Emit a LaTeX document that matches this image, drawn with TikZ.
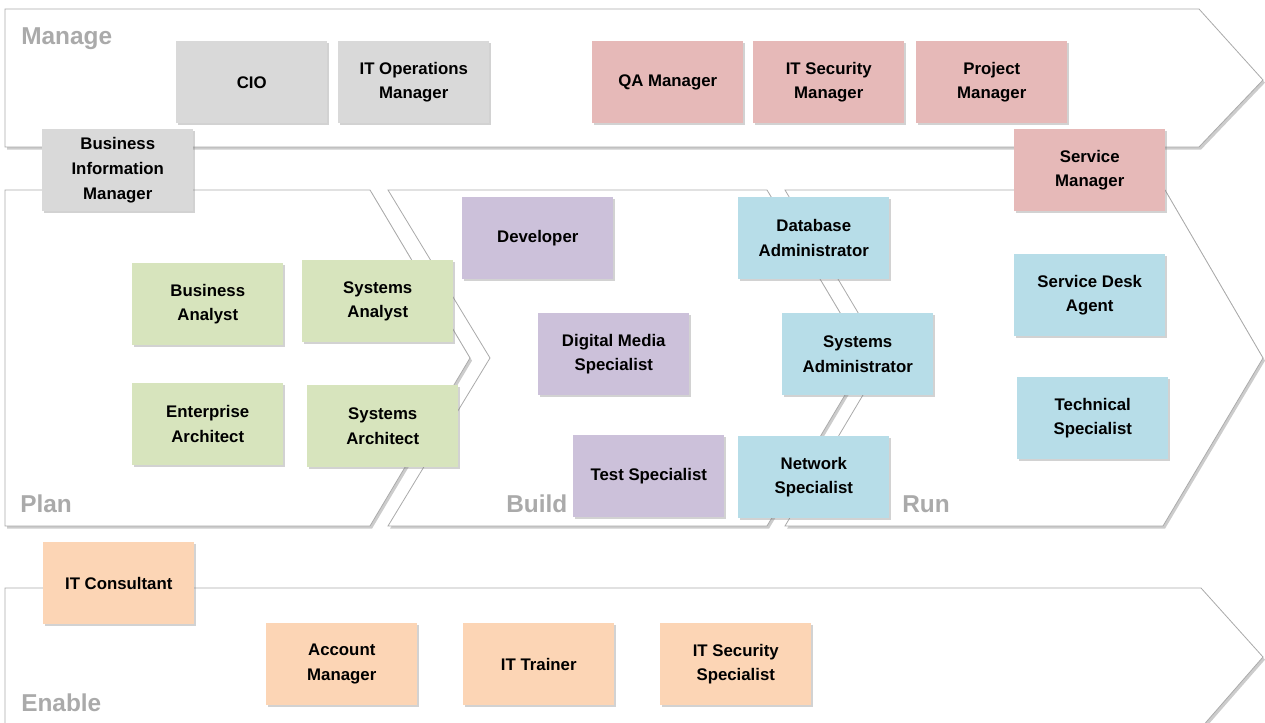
\documentclass[tikz,border=0pt]{standalone}
\usepackage{fontspec}
\setmainfont{Liberation Sans}
\usepackage{tikz}
\usetikzlibrary{shadows}
\definecolor{bandline}{RGB}{170,170,170}
\definecolor{bandtext}{RGB}{170,170,170}
\definecolor{mgmtgray}{RGB}{217,217,217}
\definecolor{leadpink}{RGB}{230,185,184}
\definecolor{plangreen}{RGB}{215,228,189}
\definecolor{buildpurple}{RGB}{204,193,218}
\definecolor{runblue}{RGB}{183,221,232}
\definecolor{enableorange}{RGB}{252,213,181}

\begin{document}
\begin{tikzpicture}[
    x=0.75pt, y=-0.75pt,
    band/.style={draw=bandline,fill=white,line width=0.6pt,
      drop shadow={shadow xshift=1.5pt,shadow yshift=-2pt,opacity=.4}},
    phase/.style={anchor=base west,inner sep=0pt,text=bandtext,
      font=\fontsize{18.3}{20}\selectfont\bfseries},
    role/.style={anchor=north west,minimum width=113.25pt,minimum height=61.5pt,
      inner sep=1pt,align=center,
      font=\fontsize{12.6}{18.5}\selectfont\bfseries,
      drop shadow={shadow xshift=1.2pt,shadow yshift=-1.5pt,opacity=.35}},
    mgmt/.style={role,fill=mgmtgray},
    lead/.style={role,fill=leadpink},
    plan/.style={role,fill=plangreen},
    build/.style={role,fill=buildpurple},
    ops/.style={role,fill=runblue},
    enab/.style={role,fill=enableorange}
    ]
    \useasboundingbox (0,0) rectangle (1265,723);
    % bands
    \draw[band] (5,9) -- (1199,9) -- (1263,80) -- (1199,147) -- (5,147) -- cycle;
    \draw[band] (5,190) -- (370,190) -- (470,358) -- (370,526) -- (5,526) -- cycle;
    \draw[band] (388,190) -- (767,190) -- (867,358) -- (767,526) -- (388,526) -- (490,358) -- cycle;
    \draw[band] (785,190) -- (1165,190) -- (1263,358) -- (1163,526) -- (785,526) -- (885,358) -- cycle;
    \draw[band] (5,588) -- (1201,588) -- (1263,657) -- (1201,728) -- (5,728) -- cycle;
    \node[phase] (manage) at (21,45) {Manage};
    \node[phase] (plan) at (20,513) {Plan};
    \node[phase] (build) at (506,513) {Build};
    \node[phase] (run) at (902,513) {Run};
    \node[phase] (enable) at (21,711) {Enable};
    % manage
    \node[mgmt] (cio) at (176,41) {CIO};
    \node[mgmt] (itops) at (338,41) {IT Operations\\Manager};
    \node[lead] (qa) at (592,41) {QA Manager};
    \node[lead] (itsecmgr) at (753,41) {IT Security\\Manager};
    \node[lead] (pm) at (916,41) {Project\\Manager};
    \node[mgmt] (bim) at (42,129) {Business\\Information\\Manager};
    \node[lead] (svcmgr) at (1014,129) {Service\\Manager};
    % plan
    \node[plan] (ba) at (132,263) {Business\\Analyst};
    \node[plan] (sa) at (302,260) {Systems\\Analyst};
    \node[plan] (ea) at (132,383) {Enterprise\\Architect};
    \node[plan] (sysarch) at (307,385) {Systems\\Architect};
    % build
    \node[build] (dev) at (462,197) {Developer};
    \node[build] (dms) at (538,313) {Digital Media\\Specialist};
    \node[build] (test) at (573,435) {Test Specialist};
    % run
    \node[ops] (dba) at (738,197) {Database\\Administrator};
    \node[ops] (sysadm) at (782,313) {Systems\\Administrator};
    \node[ops] (net) at (738,436) {Network\\Specialist};
    \node[ops] (sda) at (1014,254) {Service Desk\\Agent};
    \node[ops] (tech) at (1017,377) {Technical\\Specialist};
    % enable
    \node[enab] (itcons) at (43,542) {IT Consultant};
    \node[enab] (acct) at (266,623) {Account\\Manager};
    \node[enab] (trainer) at (463,623) {IT Trainer};
    \node[enab] (itsecspec) at (660,623) {IT Security\\Specialist};
  \end{tikzpicture}
\end{document}
